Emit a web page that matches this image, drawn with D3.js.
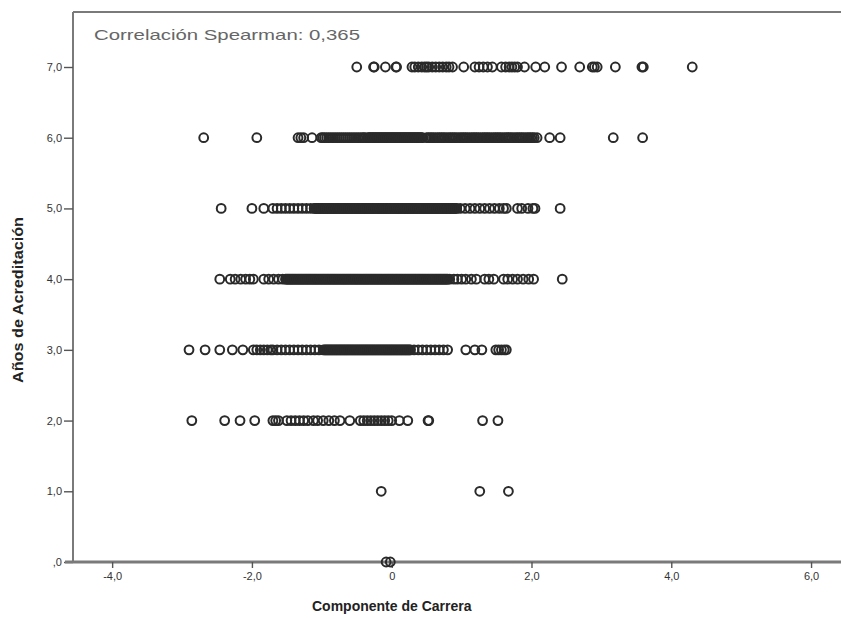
<!DOCTYPE html>
<html>
<head>
<meta charset="utf-8">
<script src="https://cdn.jsdelivr.net/npm/d3@7"></script>
<style>
  body { margin: 0; background: #fff; }
  svg { display: block; }
</style>
</head>
<body>
<div id="chart"></div>
<script>
// x values (Componente de Carrera) for each level of Años de Acreditación
var row7 = [-0.50, -0.26, -0.25, -0.09, 0.06, 0.07, 0.29, 0.33, 0.38, 0.43, 0.47, 0.50, 0.53, 0.58, 0.63,
    0.68, 0.73, 0.78, 0.82, 0.87, 1.03, 1.19, 1.25, 1.31, 1.37, 1.44, 1.57, 1.63, 1.68, 1.72, 1.76,
    1.80, 1.90, 2.06, 2.19, 2.43, 2.69, 2.87, 2.90, 2.94, 3.20, 3.58, 3.60, 4.30];

var row6 = [-2.69, -1.93, -1.34, -1.30, -1.26, -1.14, -1.01, -0.96, -0.90, -0.84, -0.78, -0.72, -0.66,
    -0.60, -0.54, -0.48, -0.42, -0.38, -0.34, -0.31, -0.28, -0.25, -0.22, -0.19, -0.16, -0.13, -0.10,
    -0.07, -0.04, -0.01, 0.02, 0.05, 0.08, 0.11, 0.14, 0.17, 0.20, 0.23, 0.26, 0.29, 0.32, 0.35, 0.38,
    0.41, 0.44, 0.50, 0.55, 0.60, 0.66, 0.71, 0.76, 0.82, 0.87, 0.92, 0.98, 1.03, 1.08, 1.14, 1.19,
    1.24, 1.30, 1.35, 1.40, 1.46, 1.51, 1.56, 1.62, 1.67, 1.72, 1.78, 1.83, 1.88, 1.94, 1.99, 2.04,
    2.08, 2.26, 2.41, 3.17, 3.59];
// crowded stretch of row 6 (overlapping cases)
var row6b = [-0.985, -0.93, -0.87, -0.81, -0.75, -0.69, -0.63, -0.57, -0.51, -0.45, -0.40,
    -0.325, -0.295, -0.265, -0.235, -0.205, -0.175, -0.145, -0.115, -0.085, -0.055, -0.025, 0.005,
    0.035, 0.065, 0.095, 0.125, 0.155, 0.185, 0.215, 0.245, 0.275, 0.305, 0.335, 0.365, 0.395, 0.425,
    0.525, 0.575, 0.63, 0.685, 0.735, 0.79, 0.845, 0.895, 0.95, 1.005, 1.055, 1.11, 1.165, 1.215,
    1.27, 1.325, 1.375, 1.43, 1.485, 1.535, 1.59, 1.645, 1.695, 1.75, 1.805, 1.855, 1.91, 1.965, 2.015];

var row5 = [-2.44, -2.00, -1.83, -1.70, -1.64, -1.58, -1.52, -1.46, -1.40, -1.34, -1.28, -1.22, -1.16,
    -1.11, -1.08, -1.05, -1.02, -0.99, -0.96, -0.93, -0.90, -0.87, -0.84, -0.81, -0.78, -0.75, -0.72,
    -0.69, -0.66, -0.63, -0.60, -0.57, -0.54, -0.51, -0.48, -0.45, -0.42, -0.39, -0.36, -0.33, -0.30,
    -0.27, -0.24, -0.21, -0.18, -0.15, -0.12, -0.09, -0.06, -0.03, 0.00, 0.03, 0.06, 0.09, 0.12, 0.15,
    0.18, 0.21, 0.24, 0.27, 0.30, 0.33, 0.36, 0.39, 0.42, 0.45, 0.48, 0.51, 0.54, 0.57, 0.60, 0.63,
    0.66, 0.69, 0.72, 0.75, 0.78, 0.81, 0.84, 0.87, 0.90, 0.93, 0.98, 1.05, 1.12, 1.19, 1.26, 1.33,
    1.40, 1.47, 1.54, 1.60, 1.64, 1.80, 1.86, 1.95, 2.02, 2.05, 2.41];
var row5b = [-1.095, -1.065, -1.035, -1.005, -0.975, -0.945, -0.915, -0.885, -0.855, -0.825, -0.795,
    -0.765, -0.735, -0.705, -0.675, -0.645, -0.615, -0.585, -0.555, -0.525, -0.495, -0.465, -0.435,
    -0.405, -0.375, -0.345, -0.315, -0.285, -0.255, -0.225, -0.195, -0.165, -0.135, -0.105, -0.075,
    -0.045, -0.015, 0.015, 0.045, 0.075, 0.105, 0.135, 0.165, 0.195, 0.225, 0.255, 0.285, 0.315,
    0.345, 0.375, 0.405, 0.435, 0.465, 0.495, 0.525, 0.555, 0.585, 0.615, 0.645, 0.675, 0.705, 0.735,
    0.765, 0.795, 0.825, 0.855, 0.885, 0.915];

var row4 = [-2.46, -2.31, -2.24, -2.16, -2.09, -2.03, -1.98, -1.83, -1.76, -1.69, -1.62, -1.56, -1.52,
    -1.49, -1.46, -1.43, -1.40, -1.37, -1.34, -1.31, -1.28, -1.25, -1.22, -1.19, -1.16, -1.13, -1.10,
    -1.07, -1.04, -1.01, -0.98, -0.95, -0.92, -0.89, -0.86, -0.83, -0.80, -0.77, -0.74, -0.71, -0.68,
    -0.65, -0.62, -0.59, -0.56, -0.53, -0.50, -0.47, -0.44, -0.41, -0.38, -0.35, -0.32, -0.29, -0.26,
    -0.23, -0.20, -0.17, -0.14, -0.11, -0.08, -0.05, -0.02, 0.01, 0.04, 0.07, 0.10, 0.13, 0.16, 0.19,
    0.22, 0.25, 0.28, 0.31, 0.34, 0.37, 0.40, 0.43, 0.46, 0.49, 0.52, 0.55, 0.58, 0.61, 0.64, 0.67,
    0.70, 0.73, 0.76, 0.79, 0.83, 0.89, 0.94, 1.00, 1.06, 1.14, 1.21, 1.33, 1.39, 1.46, 1.60, 1.66,
    1.73, 1.80, 1.88, 1.96, 2.03, 2.44];
var row4b = [-1.505, -1.475, -1.445, -1.415, -1.385, -1.355, -1.325, -1.295, -1.265, -1.235, -1.205,
    -1.175, -1.145, -1.115, -1.085, -1.055, -1.025, -0.995, -0.965, -0.935, -0.905, -0.875, -0.845,
    -0.815, -0.785, -0.755, -0.725, -0.695, -0.665, -0.635, -0.605, -0.575, -0.545, -0.515, -0.485,
    -0.455, -0.425, -0.395, -0.365, -0.335, -0.305, -0.275, -0.245, -0.215, -0.185, -0.155, -0.125,
    -0.095, -0.065, -0.035, -0.005, 0.025, 0.055, 0.085, 0.115, 0.145, 0.175, 0.205, 0.235, 0.265,
    0.295, 0.325, 0.355, 0.385, 0.415, 0.445, 0.475, 0.505, 0.535, 0.565, 0.595, 0.625, 0.655, 0.685,
    0.715, 0.745, 0.775, 0.805];

var row3 = [-2.90, -2.67, -2.46, -2.28, -2.13, -1.98, -1.93, -1.88, -1.83, -1.78, -1.73, -1.70, -1.64,
    -1.58, -1.52, -1.46, -1.40, -1.34, -1.28, -1.22, -1.16, -1.10, -1.04, -0.98, -0.96, -0.93, -0.90,
    -0.87, -0.84, -0.81, -0.78, -0.75, -0.72, -0.69, -0.66, -0.63, -0.60, -0.57, -0.54, -0.51, -0.48,
    -0.45, -0.42, -0.39, -0.36, -0.33, -0.30, -0.27, -0.24, -0.21, -0.18, -0.15, -0.12, -0.09, -0.06,
    -0.03, 0.00, 0.03, 0.06, 0.09, 0.12, 0.15, 0.18, 0.21, 0.24, 0.27, 0.32, 0.38, 0.44, 0.50, 0.56,
    0.62, 0.68, 0.74, 0.80, 1.06, 1.19, 1.29, 1.49, 1.53, 1.57, 1.61, 1.64];
var row3b = [-0.945, -0.915, -0.885, -0.855, -0.825, -0.795, -0.765, -0.735, -0.705, -0.675, -0.645,
    -0.615, -0.585, -0.555, -0.525, -0.495, -0.465, -0.435, -0.405, -0.375, -0.345, -0.315, -0.285,
    -0.255, -0.225, -0.195, -0.165, -0.135, -0.105, -0.075, -0.045, -0.015, 0.015, 0.045, 0.075,
    0.105, 0.135, 0.165, 0.195, 0.225, 0.255];

var row2 = [-2.86, -2.39, -2.17, -1.96, -1.70, -1.66, -1.62, -1.50, -1.44, -1.38, -1.32, -1.26, -1.20,
    -1.12, -1.06, -0.98, -0.90, -0.82, -0.74, -0.60, -0.45, -0.40, -0.35, -0.30, -0.25, -0.20, -0.15,
    -0.10, -0.05, 0.00, 0.11, 0.23, 0.52, 0.53, 1.30, 1.52];

var row1 = [-0.15, 1.26, 1.67];

var row0 = [-0.08, -0.02];

var levels = [7, 6, 5, 4, 3, 2, 1, 0];
var rows = [row7, row6.concat(row6b), row5.concat(row5b), row4.concat(row4b),
    row3.concat(row3b), row2, row1, row0];

var yTicks = [0, 1, 2, 3, 4, 5, 6, 7];
var yTickLabels = [",0", "1,0", "2,0", "3,0", "4,0", "5,0", "6,0", "7,0"];
var xTicks = [-4, -2, 0, 2, 4, 6];
var xTickLabels = ["-4,0", "-2,0", "0", "2,0", "4,0", "6,0"];

var correlationText = "Correlación Spearman: 0,365";

function drawScatter() {
    var width = 841;
    var height = 619;
    var font = "'Liberation Sans', Arial, sans-serif";

    var svg = d3.select("#chart")
        .append("svg")
        .attr("width", width)
        .attr("height", height);

    var left = 73, top = 12, bottom = 562;

    var x = d3.scaleLinear().domain([-4.56, 6.5]).range([left, 846]);
    var y = d3.scaleLinear().domain([0, 7]).range([bottom, 67]);

    // flatten rows into points
    var points = [];
    rows.forEach(function (r, i) {
        r.forEach(function (v) {
            points.push({ x: v, y: levels[i] });
        });
    });

    // frame: top line
    svg.append("line")
        .attr("x1", left).attr("x2", width + 5)
        .attr("y1", top).attr("y2", top)
        .attr("stroke", "#7a7a7a")
        .attr("stroke-width", 2);

    // Y axis
    var yAxis = svg.append("g")
        .attr("transform", "translate(" + left + ",0)")
        .call(d3.axisLeft(y).tickValues(yTicks).tickSize(9).tickPadding(2)
            .tickFormat(function (d, i) { return yTickLabels[i]; }));
    yAxis.select(".domain")
        .attr("d", "M0," + top + "V" + bottom)
        .attr("stroke", "#7a7a7a")
        .attr("stroke-width", 2);
    yAxis.selectAll(".tick line").attr("stroke", "#555").attr("stroke-width", 1.4);
    yAxis.selectAll(".tick text")
        .attr("fill", "#333")
        .style("font-family", font)
        .style("font-size", "11px");

    // X axis
    var xAxis = svg.append("g")
        .attr("transform", "translate(0," + bottom + ")")
        .call(d3.axisBottom(x).tickValues(xTicks).tickSize(6).tickPadding(4)
            .tickFormat(function (d, i) { return xTickLabels[i]; }));
    xAxis.select(".domain")
        .attr("d", "M" + (left - 8) + ",0H" + (width + 5))
        .attr("stroke", "#7a7a7a")
        .attr("stroke-width", 3);
    xAxis.selectAll(".tick line").attr("stroke", "#555").attr("stroke-width", 1.4);
    xAxis.selectAll(".tick text")
        .attr("fill", "#333")
        .style("font-family", font)
        .style("font-size", "11px");

    // points
    svg.append("g")
        .selectAll("circle")
        .data(points)
        .join("circle")
        .attr("cx", d => x(d.x))
        .attr("cy", d => y(d.y))
        .attr("r", 4.4)
        .attr("fill", "none")
        .attr("stroke", "#2a2a2a")
        .attr("stroke-width", 2);

    // correlation label
    svg.append("text")
        .attr("x", 94)
        .attr("y", 40)
        .text(correlationText)
        .attr("textLength", 266)
        .attr("lengthAdjust", "spacingAndGlyphs")
        .attr("fill", "#666")
        .style("font-family", font)
        .style("font-size", "14.5px");

    // axis titles
    svg.append("text")
        .attr("transform", "translate(" + x(0) + "," + 611 + ")")
        .attr("text-anchor", "middle")
        .text("Componente de Carrera")
        .attr("fill", "#222")
        .style("font-family", font)
        .style("font-weight", "bold")
        .style("font-size", "14px");

    svg.append("text")
        .attr("transform", "translate(23," + 300 + ") rotate(-90)")
        .attr("text-anchor", "middle")
        .text("Años de Acreditación")
        .attr("textLength", 166)
        .attr("lengthAdjust", "spacingAndGlyphs")
        .attr("fill", "#222")
        .style("font-family", font)
        .style("font-weight", "bold")
        .style("font-size", "14px");
}

drawScatter();
</script>
</body>
</html>
